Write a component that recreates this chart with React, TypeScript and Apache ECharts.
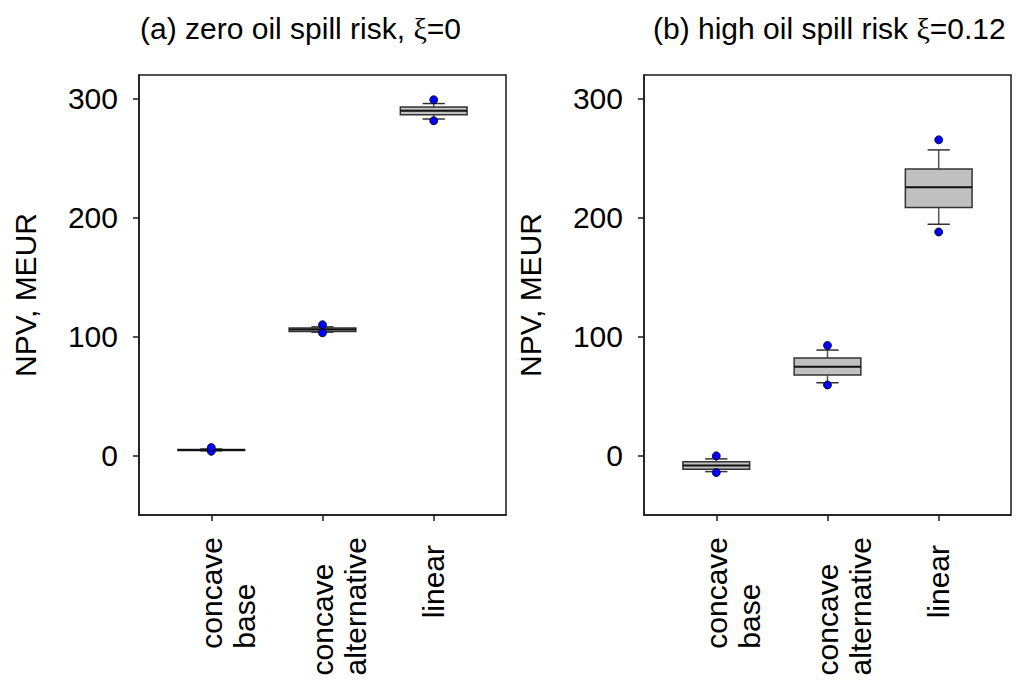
import React, { useEffect, useRef } from "react";
import * as echarts from "echarts";

// categories and tick labels
const categories = ["concave\nbase", "concave\nalternative", "linear"];
const categoryPositions = [1, 2, 3];
const yTicks = [0, 100, 200, 300];

// panel (a): zero oil spill risk
const lowOutlierA = [3.6, 103.2, 281.5];
const lowWhiskerA = [4.0, 103.8, 283.0];
const q1A = [4.3, 104.4, 286.5];
const medianA = [4.7, 105.9, 290.0];
const q3A = [5.1, 107.2, 293.0];
const highWhiskerA = [5.5, 108.2, 296.0];
const highOutlierA = [6.7, 110.0, 299.2];

// panel (b): high oil spill risk
const lowOutlierB = [-14.3, 59.3, 188.0];
const lowWhiskerB = [-13.5, 61.2, 194.5];
const q1B = [-11.5, 67.7, 208.5];
const medianB = [-8.4, 74.7, 225.6];
const q3B = [-5.3, 82.0, 241.0];
const highWhiskerB = [-2.8, 88.7, 257.0];
const highOutlierB = [-0.3, 92.6, 265.5];

const FONT = "Liberation Sans, Arial, Helvetica, sans-serif";

function buildData(lo: number[], lw: number[], q1: number[], md: number[], q3: number[], hw: number[], ho: number[]) {
  return categoryPositions.map((x, i) => [x, lo[i], lw[i], q1[i], md[i], q3[i], hw[i], ho[i]]);
}

const renderBox = (params: any, api: any) => {
  const x = api.value(0);
  const p = (v: number) => api.coord([x, v]);
  const cx = p(0)[0];
  const half = api.size([0.3, 0])[0];
  const cap = api.size([0.1, 0])[0];
  const lo = p(api.value(1));
  const lw = p(api.value(2));
  const q1 = p(api.value(3));
  const md = p(api.value(4));
  const q3 = p(api.value(5));
  const hw = p(api.value(6));
  const ho = p(api.value(7));
  const whisk = { stroke: "#555", lineWidth: 1.5 };
  const capS = { stroke: "#333", lineWidth: 1.5 };
  return {
    type: "group",
    children: [
      { type: "line", shape: { x1: cx, y1: lw[1], x2: cx, y2: q1[1] }, style: whisk },
      { type: "line", shape: { x1: cx, y1: q3[1], x2: cx, y2: hw[1] }, style: whisk },
      { type: "line", shape: { x1: cx - cap, y1: lw[1], x2: cx + cap, y2: lw[1] }, style: capS },
      { type: "line", shape: { x1: cx - cap, y1: hw[1], x2: cx + cap, y2: hw[1] }, style: capS },
      {
        type: "rect",
        shape: { x: cx - half, y: q3[1], width: 2 * half, height: q1[1] - q3[1] },
        style: { fill: "#c0c0c0", stroke: "#333", lineWidth: 1.5 },
      },
      { type: "line", shape: { x1: cx - half, y1: md[1], x2: cx + half, y2: md[1] }, style: { stroke: "#111", lineWidth: 2 } },
      { type: "circle", shape: { cx: lo[0], cy: lo[1], r: 4 }, style: { fill: "#0000ff", stroke: "#000", lineWidth: 0.8 } },
      { type: "circle", shape: { cx: ho[0], cy: ho[1], r: 4 }, style: { fill: "#0000ff", stroke: "#000", lineWidth: 0.8 } },
    ],
  };
};

function xAxis(gridIndex: number) {
  return {
    type: "value",
    gridIndex,
    min: 0.35,
    max: 3.65,
    splitLine: { show: false },
    axisLine: { show: true, onZero: false, lineStyle: { color: "#1a1a1a", width: 1.5 } },
    axisTick: { show: true, inside: false, length: 6, customValues: categoryPositions, lineStyle: { color: "#1a1a1a", width: 1.5 } },
    axisLabel: {
      customValues: categoryPositions,
      rotate: 90,
      margin: 22,
      color: "#000",
      fontFamily: FONT,
      fontSize: 30,
      formatter: (v: number) => {
        const idx = categoryPositions.indexOf(Math.round(v));
        const label = categories[idx] ?? "";
        const lines = label.split("\n");
        if (lines.length === 1) return "{l|" + lines[0] + "}";
        return "{t| }\n" + lines.map((s) => "{t|" + s + "}").join("\n");
      },
      rich: {
        t: { fontFamily: FONT, fontSize: 30, lineHeight: 33, align: "left", color: "#000" },
        l: { fontFamily: FONT, fontSize: 30, lineHeight: 33, align: "left", color: "#000", padding: [0, 8, 0, 0] },
      },
    },
  };
}

function yAxis(gridIndex: number) {
  return {
    type: "value",
    gridIndex,
    min: -50,
    max: 320,
    name: "NPV, MEUR",
    nameLocation: "middle",
    nameGap: 99,
    nameTextStyle: { fontFamily: FONT, fontSize: 30, color: "#000" },
    splitLine: { show: false },
    axisLine: { show: true, onZero: false, lineStyle: { color: "#1a1a1a", width: 1.5 } },
    axisTick: { show: true, inside: false, length: 6, customValues: yTicks, lineStyle: { color: "#1a1a1a", width: 1.5 } },
    axisLabel: { customValues: yTicks, margin: 21, color: "#000", fontFamily: FONT, fontSize: 30 },
  };
}

export default function App() {
  const ref = useRef<HTMLDivElement>(null);
  useEffect(() => {
    if (!ref.current) return;
    const chart = echarts.init(ref.current, undefined, { renderer: "svg" });
    const titleStyle = {
      fontFamily: FONT,
      fontSize: 30,
      fontWeight: "normal",
      color: "#000",
      rich: { xi: { fontFamily: "Liberation Serif, DejaVu Serif, serif", fontSize: 30, color: "#000" } },
    };
    chart.setOption({
      animation: false,
      backgroundColor: "#fff",
      title: [
        { text: "(a) zero oil spill risk, {xi|ξ}=0", left: 135, top: 8, textStyle: titleStyle },
        { text: "(b) high oil spill risk {xi|ξ}=0.12", left: 648, top: 8, textStyle: titleStyle },
      ],
      grid: [
        { left: 139, top: 75, width: 367, height: 440, show: true, borderColor: "#1a1a1a", borderWidth: 1.5, backgroundColor: "transparent" },
        { left: 644, top: 75, width: 367, height: 440, show: true, borderColor: "#1a1a1a", borderWidth: 1.5, backgroundColor: "transparent" },
      ],
      xAxis: [xAxis(0), xAxis(1)],
      yAxis: [yAxis(0), yAxis(1)],
      series: [
        {
          type: "custom",
          xAxisIndex: 0,
          yAxisIndex: 0,
          clip: false,
          renderItem: renderBox,
          encode: { x: 0, y: [1, 2, 3, 4, 5, 6, 7] },
          data: buildData(lowOutlierA, lowWhiskerA, q1A, medianA, q3A, highWhiskerA, highOutlierA),
        },
        {
          type: "custom",
          xAxisIndex: 1,
          yAxisIndex: 1,
          clip: false,
          renderItem: renderBox,
          encode: { x: 0, y: [1, 2, 3, 4, 5, 6, 7] },
          data: buildData(lowOutlierB, lowWhiskerB, q1B, medianB, q3B, highWhiskerB, highOutlierB),
        },
      ],
    });
    return () => chart.dispose();
  }, []);
  return <div ref={ref} style={{ position: "absolute", left: 0, top: 0, width: 1022, height: 693 }} />;
}
